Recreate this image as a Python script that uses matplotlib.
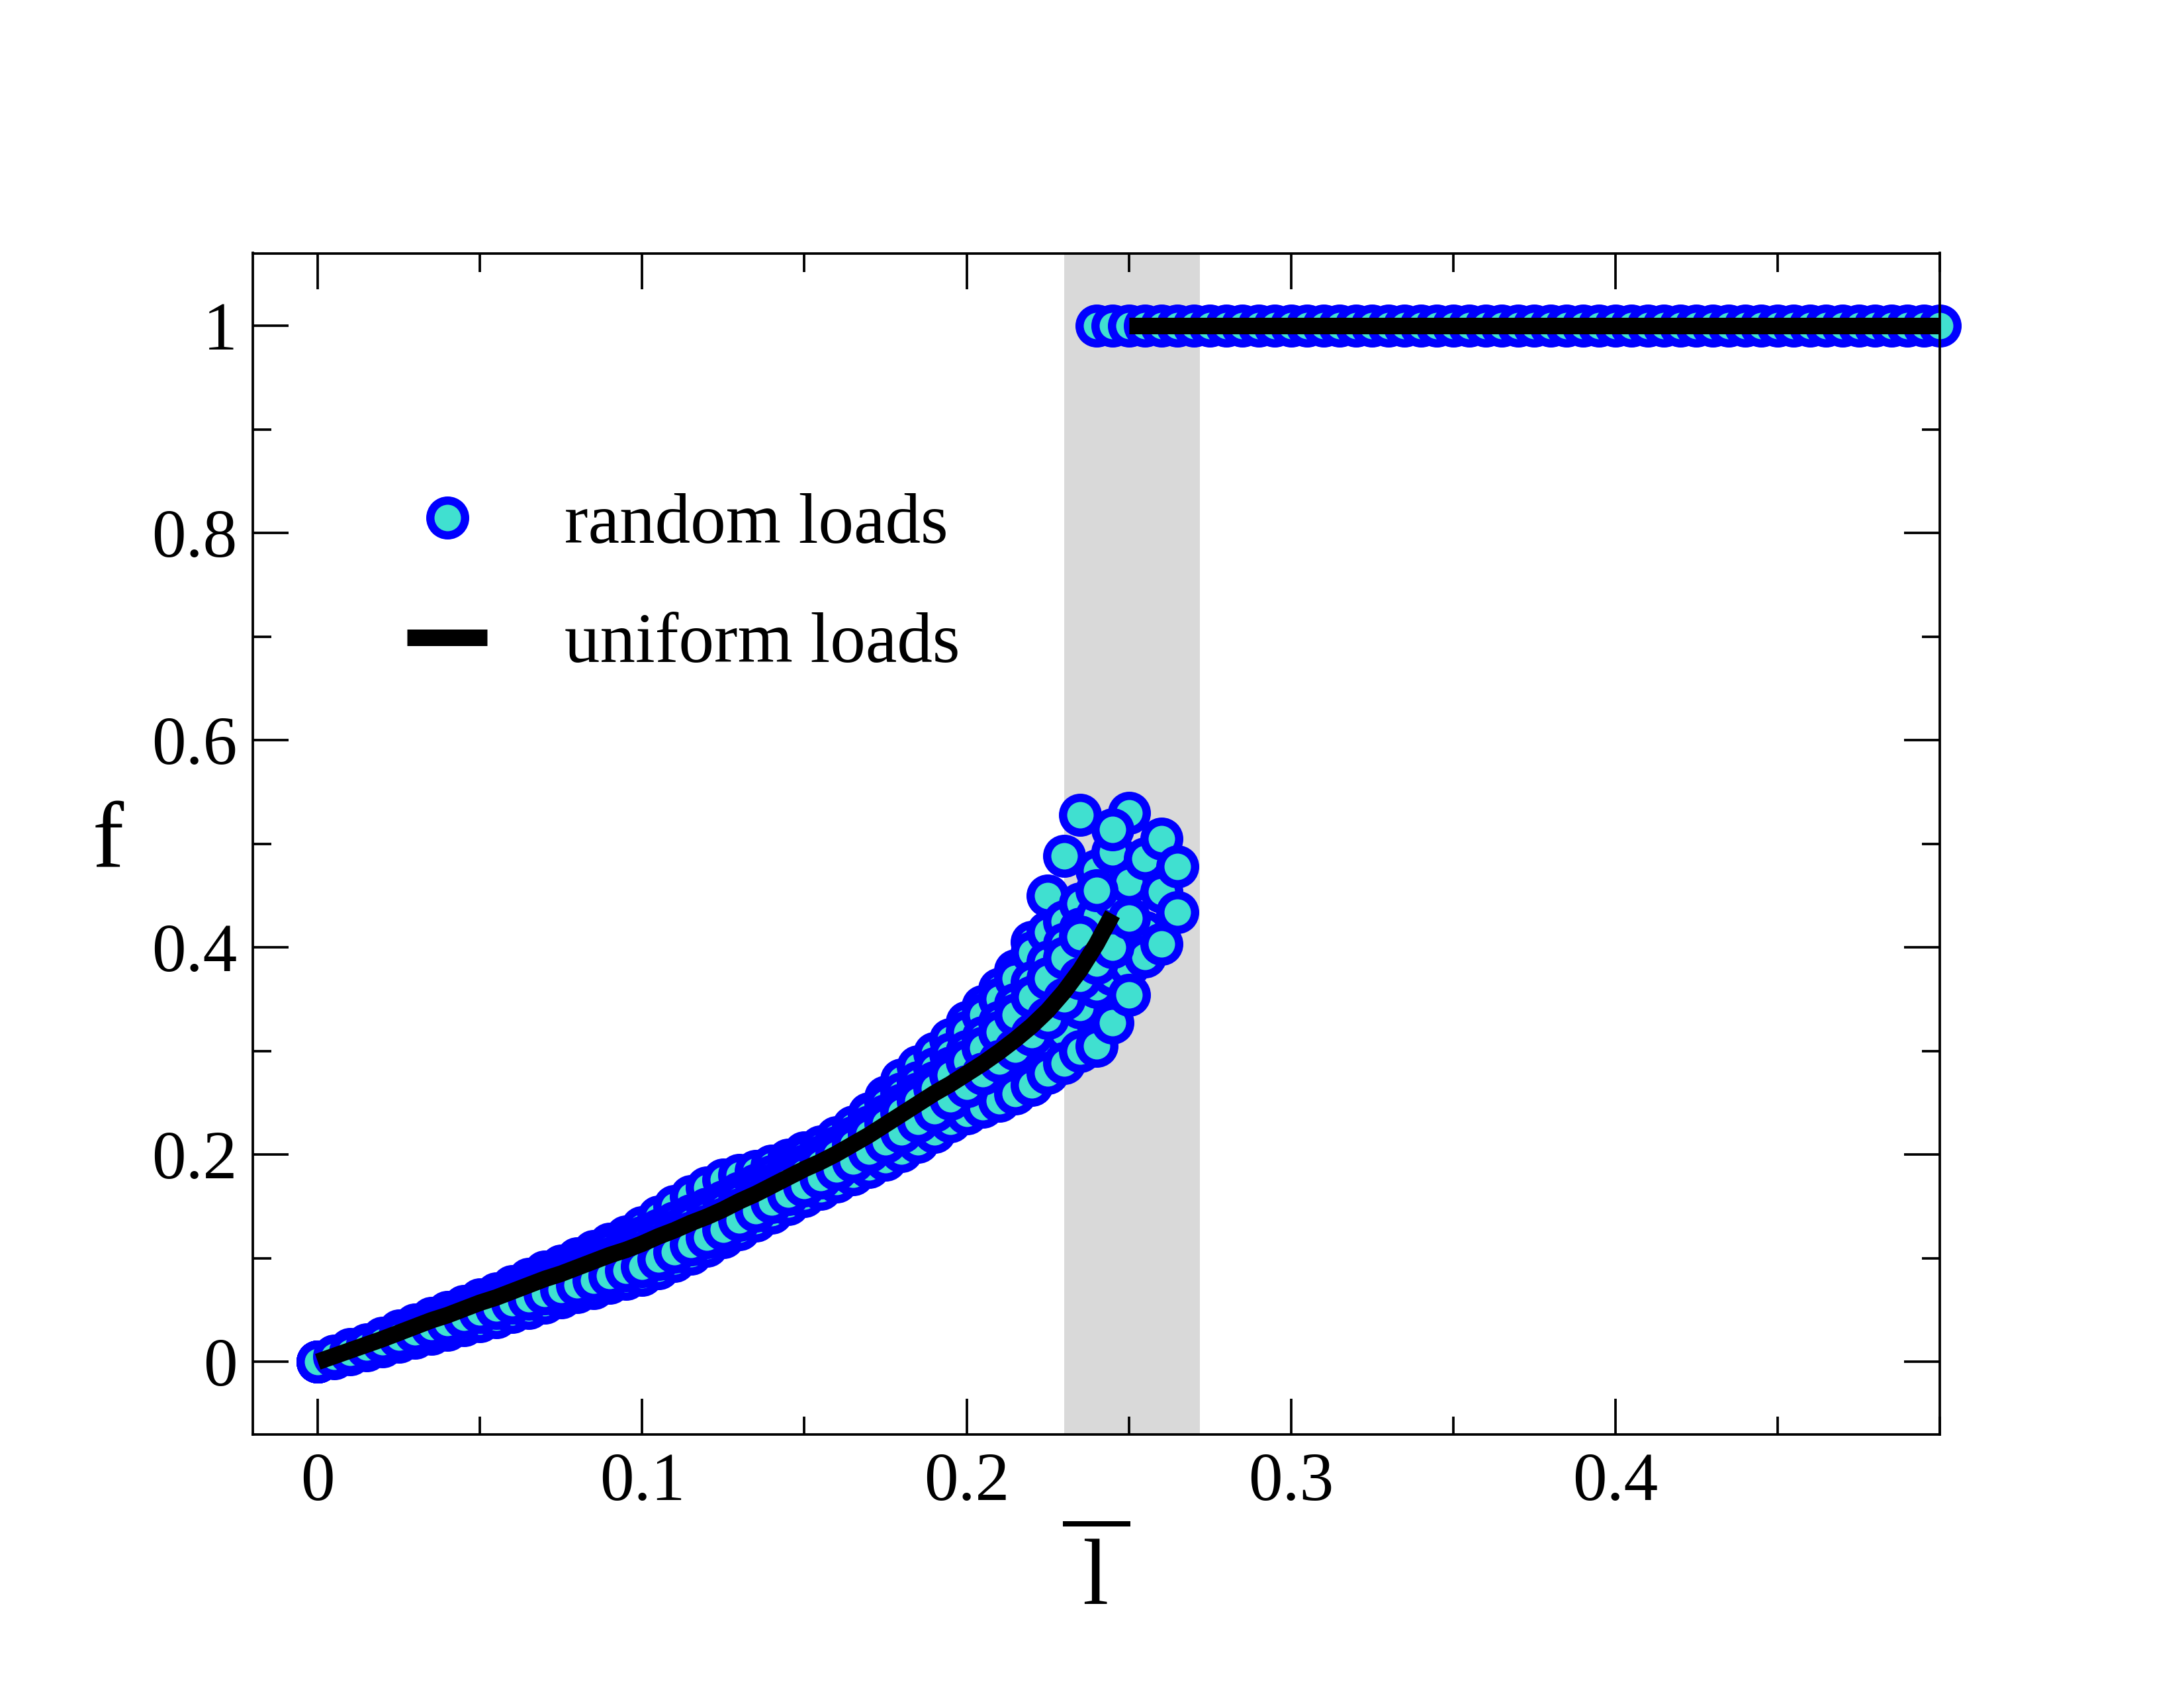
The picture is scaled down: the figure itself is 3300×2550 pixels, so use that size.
import matplotlib
matplotlib.use("Agg")
import matplotlib.pyplot as plt
from matplotlib.lines import Line2D
from matplotlib.ticker import MultipleLocator, FuncFormatter
import numpy as np

plt.rcParams['font.family'] = ['Liberation Serif', 'DejaVu Serif']
plt.rcParams['mathtext.fontset'] = 'custom'
plt.rcParams['mathtext.rm'] = 'Liberation Serif'

# load steps of the random-load runs (every run starts at 0 and goes up by 0.005)
step = 0.005

run_a = [0.000, 0.006, 0.012, 0.017, 0.023, 0.030, 0.036, 0.042, 0.048, 0.054,
         0.060, 0.066, 0.073, 0.080, 0.087, 0.093, 0.100, 0.107, 0.114, 0.121,
         0.130, 0.140, 0.150, 0.160, 0.168, 0.176, 0.180, 0.184, 0.189, 0.195,
         0.202, 0.208, 0.216, 0.226, 0.240, 0.256, 0.272, 0.285, 0.298, 0.311,
         0.328, 0.343, 0.360, 0.378, 0.405, 0.450, 0.488, 0.528]
run_b = [0.000, 0.005, 0.011, 0.016, 0.022, 0.028, 0.034, 0.040, 0.046, 0.051,
         0.057, 0.063, 0.070, 0.076, 0.083, 0.089, 0.095, 0.102, 0.108, 0.114,
         0.120, 0.127, 0.134, 0.141, 0.148, 0.155, 0.163, 0.171, 0.179, 0.188,
         0.198, 0.207, 0.217, 0.227, 0.238, 0.249, 0.259, 0.270, 0.283, 0.297,
         0.318, 0.335, 0.350, 0.370, 0.395, 0.415, 0.425, 0.442, 0.474, 0.492,
         0.530]
run_c = [0.000, 0.004, 0.010, 0.015, 0.021, 0.026, 0.033, 0.038, 0.044, 0.048,
         0.055, 0.060, 0.066, 0.071, 0.078, 0.083, 0.089, 0.094, 0.100, 0.106,
         0.113, 0.120, 0.126, 0.134, 0.140, 0.148, 0.156, 0.163, 0.171, 0.180,
         0.189, 0.198, 0.207, 0.217, 0.227, 0.238, 0.248, 0.259, 0.270, 0.284,
         0.300, 0.313, 0.328, 0.345, 0.366, 0.386, 0.403, 0.418, 0.430, 0.448,
         0.463, 0.486, 0.505]
run_d = [0.000, 0.005, 0.009, 0.015, 0.019, 0.025, 0.030, 0.036, 0.041, 0.046,
         0.051, 0.056, 0.062, 0.067, 0.073, 0.078, 0.084, 0.089, 0.095, 0.099,
         0.105, 0.112, 0.118, 0.125, 0.131, 0.138, 0.147, 0.155, 0.164, 0.173,
         0.182, 0.191, 0.200, 0.210, 0.220, 0.230, 0.241, 0.252, 0.264, 0.277,
         0.290, 0.303, 0.318, 0.335, 0.352, 0.370, 0.390, 0.410, 0.455, 0.514]
run_e = [0.000, 0.004, 0.009, 0.013, 0.018, 0.022, 0.027, 0.032, 0.036, 0.041,
         0.046, 0.050, 0.055, 0.060, 0.065, 0.070, 0.075, 0.081, 0.086, 0.092,
         0.097, 0.103, 0.109, 0.116, 0.122, 0.130, 0.138, 0.146, 0.154, 0.163,
         0.172, 0.179, 0.186, 0.193, 0.199, 0.205, 0.213, 0.222, 0.233, 0.245,
         0.259, 0.270, 0.281, 0.290, 0.297, 0.306, 0.318, 0.342, 0.362, 0.374,
         0.383, 0.415, 0.454, 0.478]
run_f = [0.000, 0.003, 0.007, 0.011, 0.015, 0.019, 0.023, 0.027, 0.031, 0.035,
         0.039, 0.043, 0.048, 0.052, 0.057, 0.062, 0.067, 0.071, 0.076, 0.080,
         0.084, 0.090, 0.097, 0.104, 0.112, 0.120, 0.128, 0.136, 0.144, 0.152,
         0.160, 0.167, 0.174, 0.181, 0.188, 0.195, 0.203, 0.212, 0.222, 0.232,
         0.240, 0.246, 0.252, 0.259, 0.267, 0.279, 0.288, 0.300, 0.305, 0.327,
         0.354, 0.391, 0.403, 0.434]
run_g = [0.000, 0.005, 0.009, 0.014, 0.019, 0.024, 0.029, 0.034, 0.038, 0.043,
         0.048, 0.052, 0.057, 0.061, 0.066, 0.070, 0.074, 0.079, 0.083, 0.088,
         0.092, 0.099, 0.106, 0.113, 0.120, 0.128, 0.137, 0.146, 0.154, 0.162,
         0.170, 0.178, 0.186, 0.194, 0.203, 0.212, 0.222, 0.232, 0.242, 0.254,
         0.266, 0.278, 0.290, 0.302, 0.316, 0.332, 0.350, 0.370, 0.385, 0.400,
         0.428]
runs = [run_a, run_b, run_c, run_d, run_e, run_f, run_g]

# after breakdown every run sits at f = 1
broken_x = np.arange(0.24, 0.5001, step)
broken_f = [1.0] * len(broken_x)

# uniform loads, same step
uniform_f = [0.000, 0.0055, 0.011, 0.0165, 0.022, 0.028, 0.034, 0.040, 0.045, 0.051,
             0.057, 0.062, 0.068, 0.074, 0.080, 0.085, 0.091, 0.097, 0.103, 0.108,
             0.114, 0.121, 0.127, 0.134, 0.140, 0.147, 0.155, 0.162, 0.170, 0.178,
             0.186, 0.193, 0.201, 0.210, 0.219, 0.229, 0.239, 0.249, 0.259, 0.268,
             0.278, 0.288, 0.299, 0.311, 0.324, 0.339, 0.357, 0.378, 0.403, 0.432]
uniform_broken_x = [0.25, 0.5]
uniform_broken_f = [1.0, 1.0]

band = (0.23, 0.272)

fill_col = '#40e0d0'
edge_col = '#0000ff'
ms = 12.6
mew = 3.0
lw = 6

fig = plt.figure(figsize=(11, 8.5), dpi=300)
ax = fig.add_axes([0.1158, 0.1503, 0.7724, 0.6997])

ax.axvspan(band[0], band[1], color='#d9d9d9', lw=0, zorder=0)

for r in runs:
    xs = np.arange(len(r)) * step
    ax.plot(xs, r, ls='none', marker='o', ms=ms, mew=mew, mfc=fill_col, mec=edge_col,
            zorder=2, clip_on=False)
ax.plot(broken_x, broken_f, ls='none', marker='o', ms=ms, mew=mew, mfc=fill_col, mec=edge_col,
        zorder=2, clip_on=False)

ux = np.arange(len(uniform_f)) * step
ax.plot(ux, uniform_f, color='black', lw=lw, solid_capstyle='butt', zorder=3)
ax.plot(uniform_broken_x, uniform_broken_f, color='black', lw=lw, solid_capstyle='butt', zorder=3)

ax.set_xlim(-0.02, 0.5)
ax.set_ylim(-0.07, 1.07)
ax.xaxis.set_major_locator(MultipleLocator(0.1))
ax.xaxis.set_minor_locator(MultipleLocator(0.05))
ax.yaxis.set_major_locator(MultipleLocator(0.2))
ax.yaxis.set_minor_locator(MultipleLocator(0.1))
fmt = FuncFormatter(lambda v, p: '%g' % round(v, 3))
ax.xaxis.set_major_formatter(fmt)
ax.yaxis.set_major_formatter(fmt)
ax.set_xticks([0, 0.1, 0.2, 0.3, 0.4])

ax.tick_params(which='both', direction='in', top=True, right=True, width=0.9)
ax.tick_params(which='major', length=13, labelsize=24.8)
ax.tick_params(which='minor', length=6.6)
ax.tick_params(axis='x', which='major', pad=6.5)
ax.tick_params(axis='y', which='major', pad=5.6)
for s in ax.spines.values():
    s.set_linewidth(0.9)

ax.set_xlabel(r'$\overline{\:\mathrm{l}\:}$', fontsize=34, labelpad=7)
ax.set_ylabel('f', fontsize=34, rotation=0, labelpad=16, va='center')

h_rand = Line2D([], [], ls='none', marker='o', ms=ms, mew=mew, mfc=fill_col, mec=edge_col)
h_uni = Line2D([], [], color='black', lw=lw, solid_capstyle='butt')
ax.legend([h_rand, h_uni], ['random loads', 'uniform loads'], loc='upper left',
          bbox_to_anchor=(0.0914, 0.797), frameon=False, fontsize=25.7,
          handlelength=1.13, handletextpad=1.09, labelspacing=0.77,
          borderpad=0, borderaxespad=0, numpoints=1)

fig.savefig('out.png', dpi=300)
